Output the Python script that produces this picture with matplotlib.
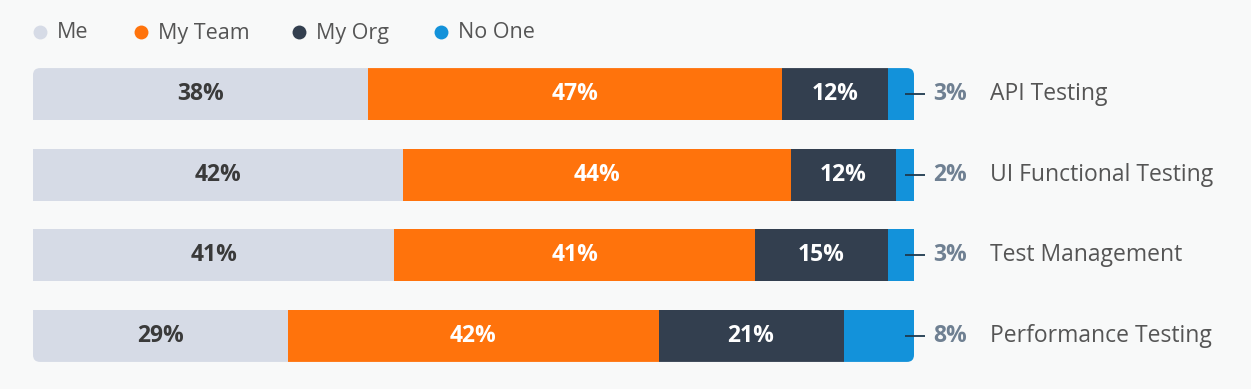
import numpy as np
import matplotlib.pyplot as plt
from matplotlib.patches import FancyBboxPatch
from matplotlib.lines import Line2D
from matplotlib.transforms import IdentityTransform

categories = ["API Testing", "UI Functional Testing", "Test Management", "Performance Testing"]
series = ["Me", "My Team", "My Org", "No One"]
me = [38, 42, 41, 29]
my_team = [47, 44, 41, 42]
my_org = [12, 12, 15, 21]
no_one = [3, 2, 3, 8]

colors = ["#d6dbe6", "#ff730c", "#333f4f", "#1392da"]
text_colors = ["#3a3a3a", "white", "white", None]

plt.rcParams['font.family'] = ['Open Sans', 'DejaVu Sans']
W, H = 1251, 389
fig = plt.figure(figsize=(W / 100, H / 100), dpi=100)
fig.patch.set_facecolor("#f8f9f9")

# axes spans the bar area: x 0..100 percent, y one unit per category
ax = fig.add_axes([33 / W, (H - 376) / H, 881 / W, 322 / H])
ax.set_facecolor("none")
ax.set_xlim(0, 100)
ax.set_ylim(len(categories) - 0.5, -0.5)
ax.axis("off")

data = [me, my_team, my_org, no_one]
y = np.arange(len(categories))
bar_h = 0.65

fig.canvas.draw()
# rounded outline of the whole block, in pixel coordinates
(x0, y0) = ax.transData.transform((0, len(categories) - 1 + bar_h / 2))
(x1, y1) = ax.transData.transform((100, -bar_h / 2))
clip = FancyBboxPatch((x0, y0), x1 - x0, y1 - y0, boxstyle="round,pad=0,rounding_size=7",
                      transform=IdentityTransform(), facecolor="none", edgecolor="none")

left = np.zeros(len(categories))
for vals, name, col, tcol in zip(data, series, colors, text_colors):
    bars = ax.barh(y, vals, left=left, height=bar_h, color=col, linewidth=0)
    for b in bars:
        b.set_clip_path(clip)
    if tcol is not None:
        for yi, v, l in zip(y, vals, left):
            ax.text(l + v / 2, yi, f"{v}%", ha="center", va="center", color=tcol,
                    fontsize=16.5, fontweight="bold")
    left = left + np.array(vals)

# connectors, outside values and category names
for yi, v, cat in zip(y, no_one, categories):
    ax.plot([99.0, 101.3], [yi, yi], color="#1e3a4f", lw=1.3, clip_on=False,
            solid_capstyle="butt")
    ax.text(102.2, yi, f"{v}%", ha="left", va="center", color="#6f8092",
            fontsize=16.5, fontweight="bold", clip_on=False)
    ax.text(108.6, yi, cat, ha="left", va="center", color="#555555",
            fontsize=16.5, clip_on=False)

# legend
leg_x = [40, 141, 299, 441]
for lx, name, col in zip(leg_x, series, colors):
    fig.add_artist(Line2D([lx / W], [1 - 32 / H], marker="o", markersize=10,
                          markerfacecolor=col, markeredgewidth=0, linestyle="none",
                          transform=fig.transFigure))
    fig.text((lx + 17) / W, 1 - 33 / H, name, ha="left", va="center",
             color="#555555", fontsize=15.5)

fig.savefig("out.png", dpi=100, facecolor=fig.get_facecolor())
